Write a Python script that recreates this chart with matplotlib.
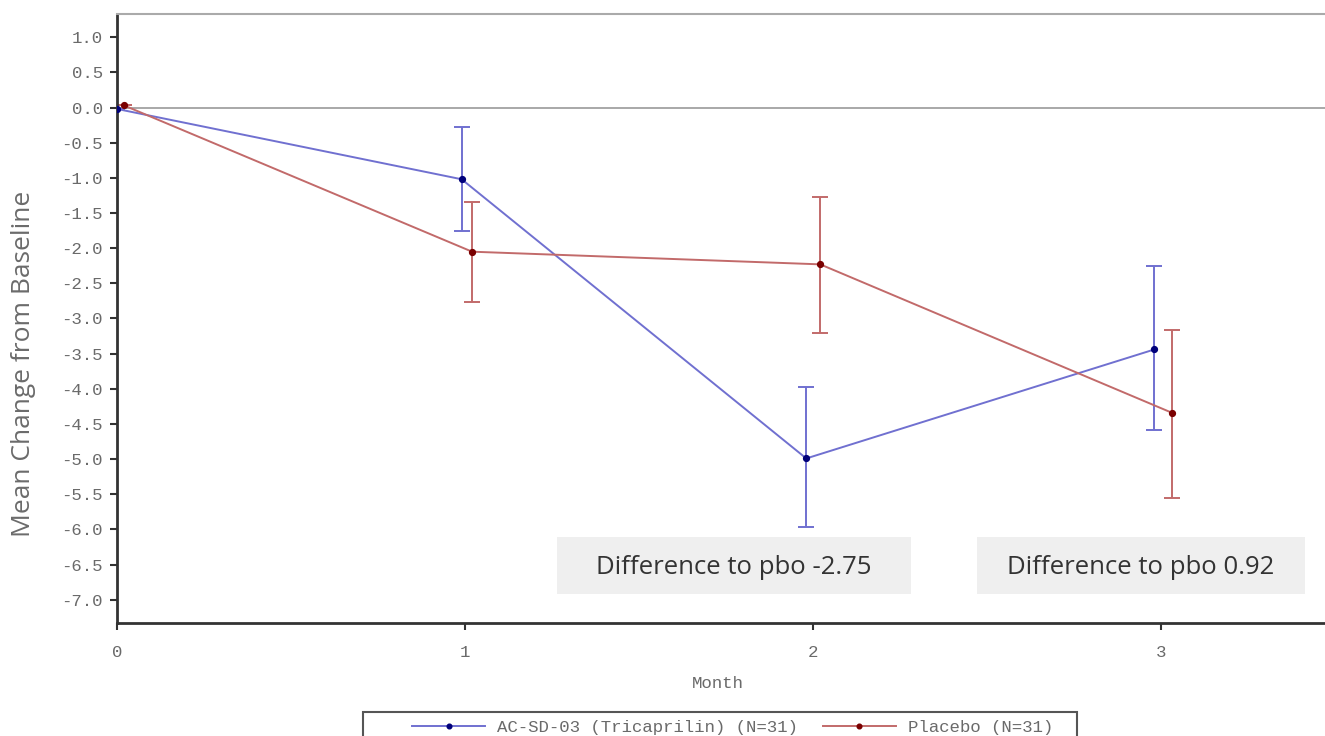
import matplotlib
matplotlib.use("Agg")
import matplotlib.pyplot as plt
from matplotlib.patches import Rectangle

# Data
months_tri = [0.0, 0.99, 1.98, 2.98]
mean_tri = [-0.02, -1.02, -4.99, -3.44]
upper_tri = [-0.02, -0.28, -3.98, -2.26]
lower_tri = [-0.02, -1.75, -5.97, -4.58]

months_pbo = [0.02, 1.02, 2.02, 3.03]
mean_pbo = [0.03, -2.05, -2.23, -4.34]
upper_pbo = [0.03, -1.34, -1.27, -3.17]
lower_pbo = [0.03, -2.77, -3.21, -5.55]

label_tri = "AC-SD-03 (Tricaprilin) (N=31)"
label_pbo = "Placebo (N=31)"
yticks = [1.0, 0.5, 0.0, -0.5, -1.0, -1.5, -2.0, -2.5, -3.0, -3.5, -4.0,
          -4.5, -5.0, -5.5, -6.0, -6.5, -7.0]
xticks = [0, 1, 2, 3]
annotations = ["Difference to pbo -2.75", "Difference to pbo 0.92"]

W, H = 1325, 736
fig = plt.figure(figsize=(W / 100, H / 100), dpi=100)
ax = fig.add_axes([117 / W, 1 - 623 / H, (W - 117) / W, (623 - 14) / H])
ax.set_xlim(0, 3.47)
ax.set_ylim(-7.33, 1.33)

mono = "Liberation Mono"
mono_size = 12.5
tick_col = "#6a6a6a"
blue_line = "#7070d0"
blue_mk = "#00007a"
red_line = "#c26a6a"
red_mk = "#7a0000"

ax.axhline(0, color="#9a9a9a", lw=1.2, zorder=1)

def draw(x, m, up, lo, lc, mc, label):
    yerr = [[mi - l for mi, l in zip(m, lo)], [u - mi for mi, u in zip(m, up)]]
    ax.errorbar(x, m, yerr=yerr, fmt="none", ecolor=lc, elinewidth=1.4,
                capsize=5.5, capthick=1.4, zorder=2)
    ax.plot(x, m, color=lc, lw=1.4, marker="o", ms=4.2, mfc=mc, mec=mc,
            label=label, zorder=3)

draw(months_tri, mean_tri, upper_tri, lower_tri, blue_line, blue_mk, label_tri)
draw(months_pbo, mean_pbo, upper_pbo, lower_pbo, red_line, red_mk, label_pbo)

ax.set_yticks(yticks)
ax.set_yticklabels([f"{v:.1f}" for v in yticks], family=mono,
                   fontsize=mono_size, color=tick_col)
ax.set_xticks(xticks)
ax.set_xticklabels([str(v) for v in xticks], family=mono, fontsize=mono_size,
                   color=tick_col)
ax.tick_params(axis="both", direction="out", length=5, width=1.5,
               color="#333333")
ax.tick_params(axis="y", pad=5)
ax.tick_params(axis="x", pad=11)

ax.spines["left"].set_linewidth(2)
ax.spines["left"].set_color("#333333")
ax.spines["bottom"].set_linewidth(2)
ax.spines["bottom"].set_color("#333333")
ax.spines["top"].set_color("#aaaaaa")
ax.spines["top"].set_linewidth(1.5)
ax.spines["right"].set_visible(False)

fig.text(718 / W, 1 - 684 / H, "Month", ha="center", va="center",
         family=mono, fontsize=mono_size, color=tick_col)
fig.text(24 / W, 1 - 364 / H, "Mean Change from Baseline", rotation=90,
         ha="center", va="center", family="Open Sans", fontsize=19,
         color="#6b6b6b")

# annotation boxes
boxes = [(557, 911), (977, 1305)]
for (x0, x1), txt in zip(boxes, annotations):
    ax.add_artist(Rectangle((x0 / W, 1 - 594 / H), (x1 - x0) / W, 57 / H,
                            transform=fig.transFigure, facecolor="#efefef",
                            edgecolor="none", zorder=4))
    fig.text((x0 + x1) / 2 / W, 1 - 567 / H, txt, ha="center", va="center",
             family="Open Sans", fontsize=18.5, color="#333333", zorder=5)

# legend frame and entries
fig.add_artist(Rectangle((363 / W, 1 - 745 / H), (1077 - 363) / W, 33 / H,
                         transform=fig.transFigure, facecolor="none",
                         edgecolor="#555555", lw=1.5, zorder=-1))
fsize_px = mono_size * 100 / 72
leg = ax.legend(loc="center left", bbox_to_anchor=(412 / W, 1 - 727 / H),
                bbox_transform=fig.transFigure, ncol=2, frameon=False,
                prop={"family": mono, "size": mono_size},
                handlelength=73 / fsize_px, markerscale=0.8, borderpad=0,
                handletextpad=12 / fsize_px, columnspacing=25 / fsize_px,
                borderaxespad=0)
for t in leg.get_texts():
    t.set_color(tick_col)

fig.savefig("out.png", dpi=100)
